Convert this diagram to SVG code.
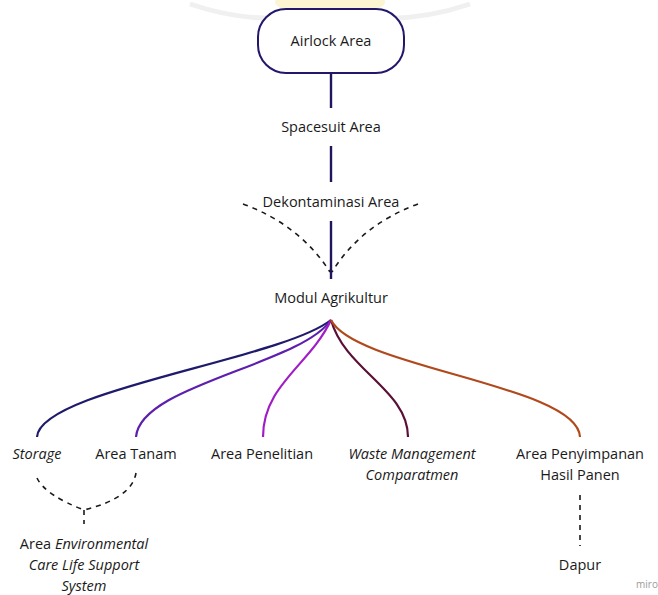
<svg xmlns="http://www.w3.org/2000/svg" width="658" height="595" viewBox="0 0 658 595">
  <style>
    text { font-family: "Open Sans", "Noto Sans", "Liberation Sans", sans-serif; font-size: 14.5px; fill: #1a1a1a; text-anchor: middle; }
    .it { font-style: italic; }
    .solid { fill: none; stroke: #1f1660; stroke-width: 2.4; }
    .dash { fill: none; stroke: #1a1a1a; stroke-width: 1.6; stroke-dasharray: 5 5; }
    .branch { fill: none; stroke-width: 2.2; }
  </style>
  <rect width="658" height="595" fill="#ffffff"/>

  <!-- faint watermark at the top edge -->
  <g id="watermark">
    <ellipse cx="330" cy="2" rx="55" ry="14" fill="#fbe9a6" opacity="0.5"/>
    <path d="M190 4 Q260 28 330 12 Q400 28 470 4" fill="none" stroke="#f0f0f0" stroke-width="5"/>
  </g>

  <!-- connectors -->
  <g id="connectors">
    <line class="solid" x1="331" y1="73" x2="331" y2="108"/>
    <line class="solid" x1="331" y1="146" x2="331" y2="182"/>
    <line class="solid" x1="331" y1="221" x2="331" y2="279"/>
    <path class="dash" d="M243 204 Q300 225 330 272"/>
    <path class="dash" d="M418 204 Q361 225 332 272"/>

    <path class="branch" stroke="#1f1a6b" d="M331 320 C280 360 40 390 37 437"/>
    <path class="branch" stroke="#5c1fae" d="M331 320 C300 365 140 385 136 437"/>
    <path class="branch" stroke="#a21cc6" d="M331 320 C310 365 263 385 263 437"/>
    <path class="branch" stroke="#5a0f36" d="M331 320 C345 370 408 390 408 437"/>
    <path class="branch" stroke="#b0491c" d="M331 320 C355 368 578 385 580 437"/>

    <path class="dash" d="M37 478 Q45 495 84 510"/>
    <path class="dash" d="M136 473 Q132 498 84 510"/>
    <line class="dash" x1="84" y1="510" x2="84" y2="524"/>
    <line class="dash" x1="580" y1="495" x2="580" y2="546" stroke-dasharray="4 4" stroke-width="2"/>
  </g>

  <g id="airlock">
    <rect x="258" y="9" width="146" height="64" rx="28" fill="#ffffff" stroke="#22176a" stroke-width="2"/>
    <text x="331" y="46">Airlock Area</text>
  </g>
  <g id="spacesuit"><text x="331" y="132">Spacesuit Area</text></g>
  <g id="dekontaminasi"><text x="331" y="207">Dekontaminasi Area</text></g>
  <g id="modul"><text x="331" y="303">Modul Agrikultur</text></g>
  <g id="storage"><text class="it" x="37" y="459">Storage</text></g>
  <g id="tanam"><text x="136" y="459">Area Tanam</text></g>
  <g id="penelitian"><text x="262" y="459">Area Penelitian</text></g>
  <g id="waste">
    <text class="it" x="412" y="459">Waste Management</text>
    <text class="it" x="412" y="480">Comparatmen</text>
  </g>
  <g id="penyimpanan">
    <text x="580" y="459">Area Penyimpanan</text>
    <text x="580" y="480">Hasil Panen</text>
  </g>
  <g id="eclss">
    <text x="84" y="549">Area <tspan class="it">Environmental</tspan></text>
    <text class="it" x="84" y="570">Care Life Support</text>
    <text class="it" x="84" y="591">System</text>
  </g>
  <g id="dapur"><text x="580" y="570">Dapur</text></g>

  <text x="647" y="588" style="font-size:10px; fill:#9a9a9a;">miro</text>
</svg>
